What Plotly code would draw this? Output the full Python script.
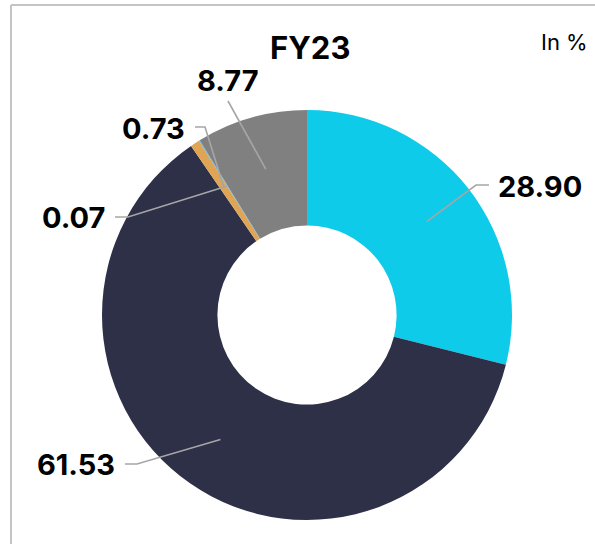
import math
import plotly.graph_objects as go

# ---- data ----
labels = ["Segment A", "Segment B", "Segment C", "Segment D", "Segment E"]
values = [28.90, 61.53, 0.73, 0.07, 8.77]
value_text = ["28.90", "61.53", "0.73", "0.07", "8.77"]
colors = ["#0ECBEA", "#2E3048", "#E0A455", "#5AB8E6", "#808080"]
title_text = "FY23"
unit_text = "In %"

W, H = 595, 544
CX, CY, R = 307, 315, 205    # donut centre / radius in page px
HOLE = 0.437
FONT = "Inter, Lato, Arial"

def px(x):
    return x / W

def py(y):
    return 1 - y / H

fig = go.Figure(go.Pie(
    labels=labels, values=values, sort=False, direction="clockwise", rotation=0,
    hole=HOLE, marker=dict(colors=colors, line=dict(width=0)),
    textinfo="none", hoverinfo="label+value", showlegend=False,
    domain=dict(x=[px(CX - R), px(CX + R)], y=[py(CY + R), py(CY - R)]),
))

# label layout (text anchor point px, elbow px, text anchor side)
label_layout = [
    dict(text=(496, 186), elbow=[(476, 185), (489, 185)], xanchor="left"),
    dict(text=(117, 464), elbow=[(137, 464), (125, 464)], xanchor="right"),
    dict(text=(187, 128), elbow=[(205, 127), (195, 127)], xanchor="right"),
    dict(text=(107, 217), elbow=[(128, 217), (115, 217)], xanchor="right"),
    dict(text=(228, 80), elbow=[(228, 101)], xanchor="center"),
]

total = sum(values)
cum = 0.0
shapes = []
annotations = []
for v, t, lay in zip(values, value_text, label_layout):
    mid = (cum + v / 2) / total * 2 * math.pi
    cum += v
    ax = CX + 0.74 * R * math.sin(mid)
    ay = CY - 0.74 * R * math.cos(mid)
    pts = [(ax, ay)] + lay["elbow"]
    path = "M " + " L ".join(f"{px(x):.5f},{py(y):.5f}" for x, y in pts)
    shapes.append(dict(type="path", xref="paper", yref="paper", path=path,
                       line=dict(color="#A6A6A6", width=1.6)))
    tx, ty = lay["text"]
    annotations.append(dict(x=px(tx), y=py(ty), xref="paper", yref="paper",
                            text=f"<b>{t}</b>", showarrow=False,
                            xanchor=lay["xanchor"], yanchor="middle",
                            font=dict(family=FONT, size=29, color="#000000")))

# frame (top and left edges)
frame = dict(color="#C4C4C4", width=2)
shapes.append(dict(type="line", xref="paper", yref="paper",
                   x0=px(11), y0=py(5), x1=1.0, y1=py(5), line=frame))
shapes.append(dict(type="line", xref="paper", yref="paper",
                   x0=px(11), y0=py(5), x1=px(11), y1=0.0, line=frame))

annotations.append(dict(x=px(310), y=py(47), xref="paper", yref="paper",
                        text=f"<b>{title_text}</b>", showarrow=False,
                        xanchor="center", yanchor="middle",
                        font=dict(family=FONT, size=31, color="#000000")))
annotations.append(dict(x=px(564), y=py(42), xref="paper", yref="paper",
                        text=unit_text, showarrow=False,
                        xanchor="center", yanchor="middle",
                        font=dict(family=FONT, size=22, color="#000000")))

fig.update_layout(width=W, height=H, margin=dict(l=0, r=0, t=0, b=0),
                  paper_bgcolor="white", plot_bgcolor="white",
                  shapes=shapes, annotations=annotations)

fig.write_html("out.html", config={"displayModeBar": False},
               post_script="document.body.style.margin='0px';document.body.style.overflow='hidden';")
